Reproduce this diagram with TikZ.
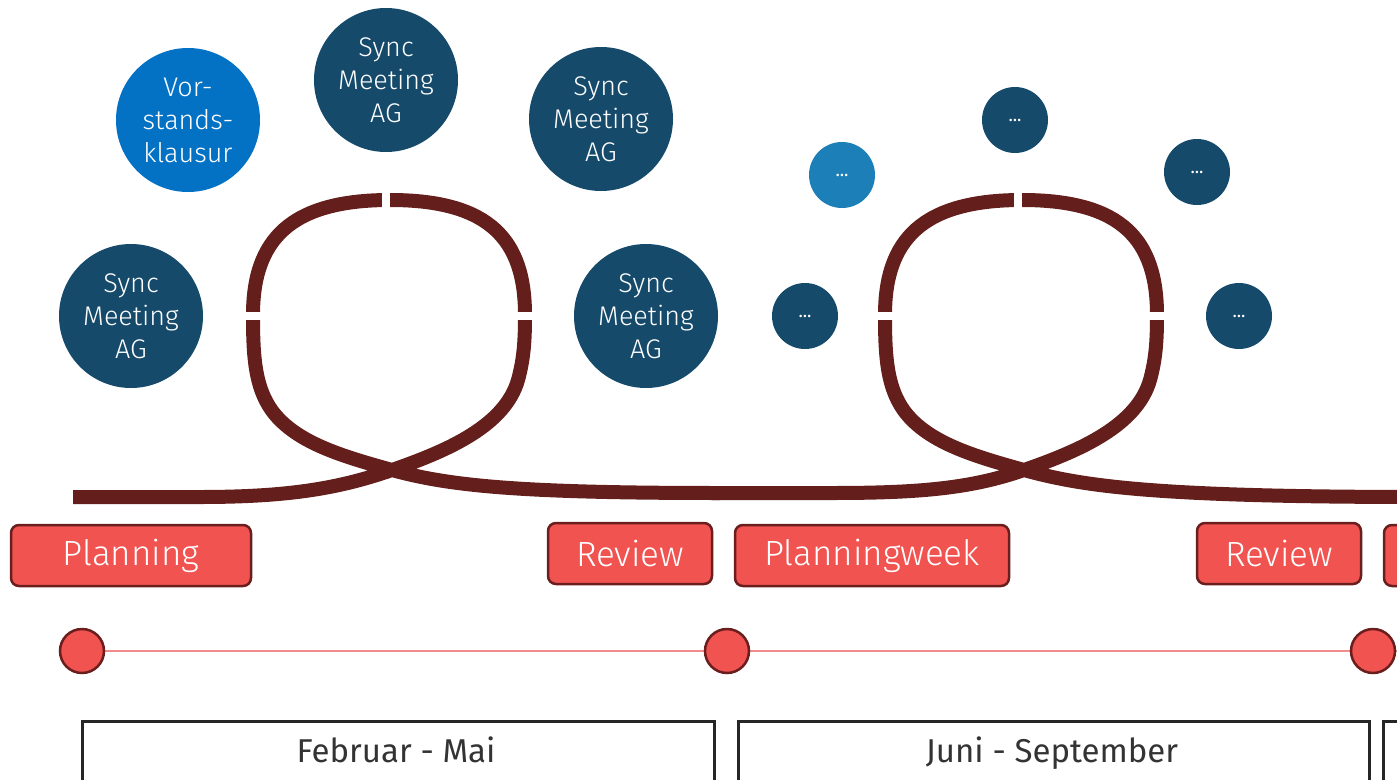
\documentclass[tikz,border=0pt]{standalone}
\usepackage{fontspec}
\setmainfont{Fira Sans Light}
\newfontfamily\regfont{Fira Sans}
\definecolor{loopc}{HTML}{641E1B}
\definecolor{darkblue}{HTML}{154A6B}
\definecolor{midblue}{HTML}{0472C4}
\definecolor{lightblue}{HTML}{1C7FB7}
\definecolor{redfill}{HTML}{F05350}
\definecolor{redline}{HTML}{6B1E1E}
\definecolor{tline}{HTML}{F28B8B}
\definecolor{txtgray}{HTML}{333333}
\tikzset{
  loopline/.style={draw=loopc, line width=14pt},
  gapline/.style={draw=white, line width=8pt},
  bigdot/.style={circle, fill=darkblue, minimum size=144pt, inner sep=0pt, text=white, align=center, font=\fontsize{27}{33}\selectfont},
  smalldot/.style={circle, fill=darkblue, minimum size=66pt, inner sep=0pt, text=white, font=\regfont\fontsize{18}{20}\selectfont},
  phase/.style={draw=redline, line width=2.5pt, fill=redfill, rounded corners=8pt, text=white, font=\fontsize{35}{40}\selectfont, inner sep=0pt, minimum height=61pt},
  milestone/.style={circle, draw=redline, line width=2.5pt, fill=redfill, minimum size=44pt, inner sep=0pt},
  period/.style={draw=black!85, line width=2.5pt, fill=white, inner sep=0pt, minimum height=80pt},
  periodtext/.style={text=txtgray, font=\regfont\fontsize{33}{38}\selectfont, anchor=base},
}
% #1 shift, #2 start x, #3 start y, #4 end x, #5 end y
\newcommand\drawmyloop[5]{%
  \begin{scope}[xshift=#1pt]
  \draw[loopline] (#2,#3) -- (200,#3) .. controls (290,#3) and (340,488) .. (392,470)
    .. controls (450,450) and (505,425) .. (518,380)
    .. controls (524,358) and (525,340) .. (525,315)
    .. controls (525,240) and (490,200) .. (390,200)
    .. controls (290,200) and (253,240) .. (253,315)
    .. controls (253,360) and (255,395) .. (280,420)
    .. controls (305,445) and (345,457) .. (392,470)
    .. controls (450,486) and (520,#5) .. (#4,#5);
  \draw[gapline] (386,186) -- (386,214);
  \draw[gapline] (238,316) -- (268,316);
  \draw[gapline] (510,316) -- (540,316);
  \end{scope}}
\begin{document}
\begin{tikzpicture}[x=1pt,y=-1pt]
\useasboundingbox (0,0) rectangle (1397,779);
\clip (0,0) rectangle (1397,779);
% loops
\drawmyloop{0}{73}{497}{720}{493}
\drawmyloop{632}{80}{493}{790}{497}
% circles loop 1
\node[bigdot] (s1) at (131,316) {Sync\\Meeting\\AG};
\node[bigdot, fill=midblue] (vk) at (188,120) {Vor-\\stands-\\klausur};
\node[bigdot] (s2) at (386,80) {Sync\\Meeting\\AG};
\node[bigdot] (s3) at (601,119) {Sync\\Meeting\\AG};
\node[bigdot] (s4) at (646,316) {Sync\\Meeting\\AG};
% circles loop 2
\node[smalldot] (d1) at (805,316) {...};
\node[smalldot, fill=lightblue] (d2) at (842,175) {...};
\node[smalldot] (d3) at (1015,120) {...};
\node[smalldot] (d4) at (1197,172) {...};
\node[smalldot] (d5) at (1239,316) {...};
% phase labels
\node[phase, minimum width=240pt] (p1) at (131,555.5) {Planning};
\node[phase, minimum width=164pt] (r1) at (630,553.5) {Review};
\node[phase, minimum width=274pt] (p2) at (872,555.5) {Planningweek};
\node[phase, minimum width=164pt] (r2) at (1279,553.5) {Review};
\node[phase, minimum width=100pt] (p3) at (1434,555.5) {};
% timeline
\coordinate (tend) at (1420,651);
\draw[tline, line width=2pt] (82,651) -- (tend);
\node[milestone] (m1) at (82,651) {};
\node[milestone] (m2) at (727,651) {};
\node[milestone] (m3) at (1373,651) {};
% periods
\node[period, minimum width=632pt, anchor=north west] (f1) at (81,720) {};
\node[periodtext] (t1) at (396,762) {Februar - Mai};
\node[period, minimum width=631pt, anchor=north west] (f2) at (737,720) {};
\node[periodtext] (t2) at (1052,762) {Juni - September};
\node[period, minimum width=200pt, anchor=north west] (f3) at (1382,720) {};
\end{tikzpicture}
\end{document}
